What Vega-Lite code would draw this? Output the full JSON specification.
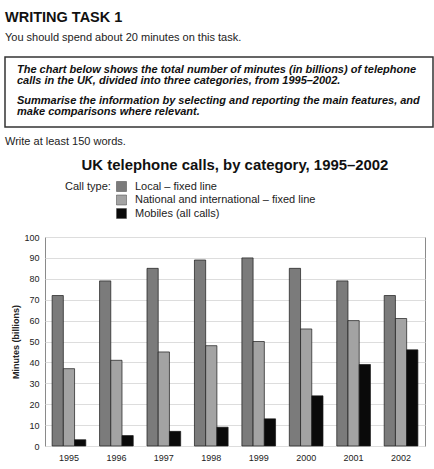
{
  "$schema": "https://vega.github.io/schema/vega-lite/v6.json",
  "padding": {"left": 4, "top": 8, "right": 0, "bottom": 0},
  "background": "white",
  "config": {
    "font": "Liberation Sans",
    "view": {"stroke": null},
    "concat": {"spacing": 8}
  },
  "columns": 1,
  "resolve": {"legend": {"color": "independent"}, "scale": {"color": "independent"}},
  "concat": [
    {
      "width": 428,
      "height": 70,
      "title": {
        "text": "WRITING TASK 1",
        "subtitle": "You should spend about 20 minutes on this task.",
        "anchor": "start",
        "frame": "group",
        "fontSize": 14.5,
        "fontWeight": "bold",
        "color": "#111",
        "subtitleFontSize": 11,
        "subtitleColor": "#222",
        "subtitlePadding": 7,
        "offset": 13
      },
      "view": {"stroke": "#333", "strokeWidth": 1.5},
      "data": {
        "values": [
          {"paragraph": 1, "text": "The chart below shows the total number of minutes (in billions) of telephone\ncalls in the UK, divided into three categories, from 1995–2002."},
          {"paragraph": 2, "text": "Summarise the information by selecting and reporting the main features, and\nmake comparisons where relevant."}
        ]
      },
      "mark": {
        "type": "text",
        "align": "left",
        "baseline": "middle",
        "fontSize": 11,
        "fontStyle": "italic",
        "fontWeight": "bold",
        "lineBreak": "\n",
        "lineHeight": 11.5,
        "color": "#111"
      },
      "encoding": {
        "x": {"value": 12},
        "y": {"field": "paragraph", "type": "ordinal", "scale": {"type": "point", "padding": 0.63, "align": 0.33}, "axis": null},
        "text": {"field": "text", "type": "nominal"}
      }
    },
    {
      "width": 428,
      "height": 1,
      "title": {
        "text": "Write at least 150 words.",
        "anchor": "start",
        "frame": "group",
        "fontSize": 11,
        "fontWeight": "normal",
        "color": "#222",
        "offset": 1
      },
      "data": {"values": []},
      "mark": "point",
      "encoding": {}
    },
    {
      "spacing": 5,
      "resolve": {"legend": {"color": "independent"}, "scale": {"color": "independent"}},
      "hconcat": [
        {
          "width": 1,
          "height": 1,
          "data": {"values": []},
          "mark": "point",
          "encoding": {}
        },
        {
          "width": 380,
          "height": 209,
          "title": {
            "text": "UK telephone calls, by category, 1995–2002",
            "fontSize": 14.9,
            "fontWeight": "bold",
            "color": "#111",
            "anchor": "middle",
            "offset": 8
          },
          "view": {"stroke": "#8a8a8a", "strokeWidth": 1},
          "data": {
            "values": [
              {"year": "1995", "type": "Local – fixed line", "minutes": 72},
              {"year": "1995", "type": "National and international – fixed line", "minutes": 37},
              {"year": "1995", "type": "Mobiles (all calls)", "minutes": 3},
              {"year": "1996", "type": "Local – fixed line", "minutes": 79},
              {"year": "1996", "type": "National and international – fixed line", "minutes": 41},
              {"year": "1996", "type": "Mobiles (all calls)", "minutes": 5},
              {"year": "1997", "type": "Local – fixed line", "minutes": 85},
              {"year": "1997", "type": "National and international – fixed line", "minutes": 45},
              {"year": "1997", "type": "Mobiles (all calls)", "minutes": 7},
              {"year": "1998", "type": "Local – fixed line", "minutes": 89},
              {"year": "1998", "type": "National and international – fixed line", "minutes": 48},
              {"year": "1998", "type": "Mobiles (all calls)", "minutes": 9},
              {"year": "1999", "type": "Local – fixed line", "minutes": 90},
              {"year": "1999", "type": "National and international – fixed line", "minutes": 50},
              {"year": "1999", "type": "Mobiles (all calls)", "minutes": 13},
              {"year": "2000", "type": "Local – fixed line", "minutes": 85},
              {"year": "2000", "type": "National and international – fixed line", "minutes": 56},
              {"year": "2000", "type": "Mobiles (all calls)", "minutes": 24},
              {"year": "2001", "type": "Local – fixed line", "minutes": 79},
              {"year": "2001", "type": "National and international – fixed line", "minutes": 60},
              {"year": "2001", "type": "Mobiles (all calls)", "minutes": 39},
              {"year": "2002", "type": "Local – fixed line", "minutes": 72},
              {"year": "2002", "type": "National and international – fixed line", "minutes": 61},
              {"year": "2002", "type": "Mobiles (all calls)", "minutes": 46}
            ]
          },
          "mark": {"type": "bar", "stroke": "#1a1a1a", "strokeWidth": 0.7},
          "encoding": {
            "x": {
              "field": "year",
              "type": "ordinal",
              "scale": {"paddingInner": 0.29, "paddingOuter": 0.15},
              "axis": {
                "title": null,
                "labelAngle": 0,
                "labelFontSize": 9,
                "labelColor": "#222",
                "ticks": false,
                "domain": false,
                "labelPadding": 7
              }
            },
            "xOffset": {
              "field": "type",
              "type": "nominal",
              "sort": ["Local – fixed line", "National and international – fixed line", "Mobiles (all calls)"]
            },
            "y": {
              "field": "minutes",
              "type": "quantitative",
              "scale": {"domain": [0, 100], "nice": false},
              "axis": {
                "title": "Minutes (billions)",
                "titleFontSize": 9,
                "titleFontWeight": "bold",
                "titleColor": "#222",
                "titlePadding": 3,
                "values": [0, 10, 20, 30, 40, 50, 60, 70, 80, 90, 100],
                "labelFontSize": 9,
                "labelColor": "#222",
                "labelPadding": 6,
                "ticks": false,
                "domain": false,
                "gridColor": "#dddddd"
              }
            },
            "color": {
              "field": "type",
              "type": "nominal",
              "scale": {
                "domain": ["Local – fixed line", "National and international – fixed line", "Mobiles (all calls)"],
                "range": ["#7b7b7b", "#a3a3a3", "#0a0a0a"]
              },
              "legend": {
                "title": "Call type:",
                "titleOrient": "left",
                "titleAnchor": "start",
                "titleBaseline": "top",
                "titleFontSize": 11,
                "titleFontWeight": "normal",
                "titleColor": "#222",
                "titlePadding": 5,
                "orient": "none",
                "legendX": 20,
                "legendY": -56,
                "direction": "vertical",
                "symbolType": "square",
                "symbolSize": 100,
                "symbolStrokeColor": "#444",
                "symbolStrokeWidth": 0.5,
                "symbolOpacity": 1,
                "labelFontSize": 11,
                "labelColor": "#222",
                "labelOffset": 8,
                "labelLimit": 0,
                "rowPadding": 0.5
              }
            }
          }
        }
      ]
    }
  ]
}
